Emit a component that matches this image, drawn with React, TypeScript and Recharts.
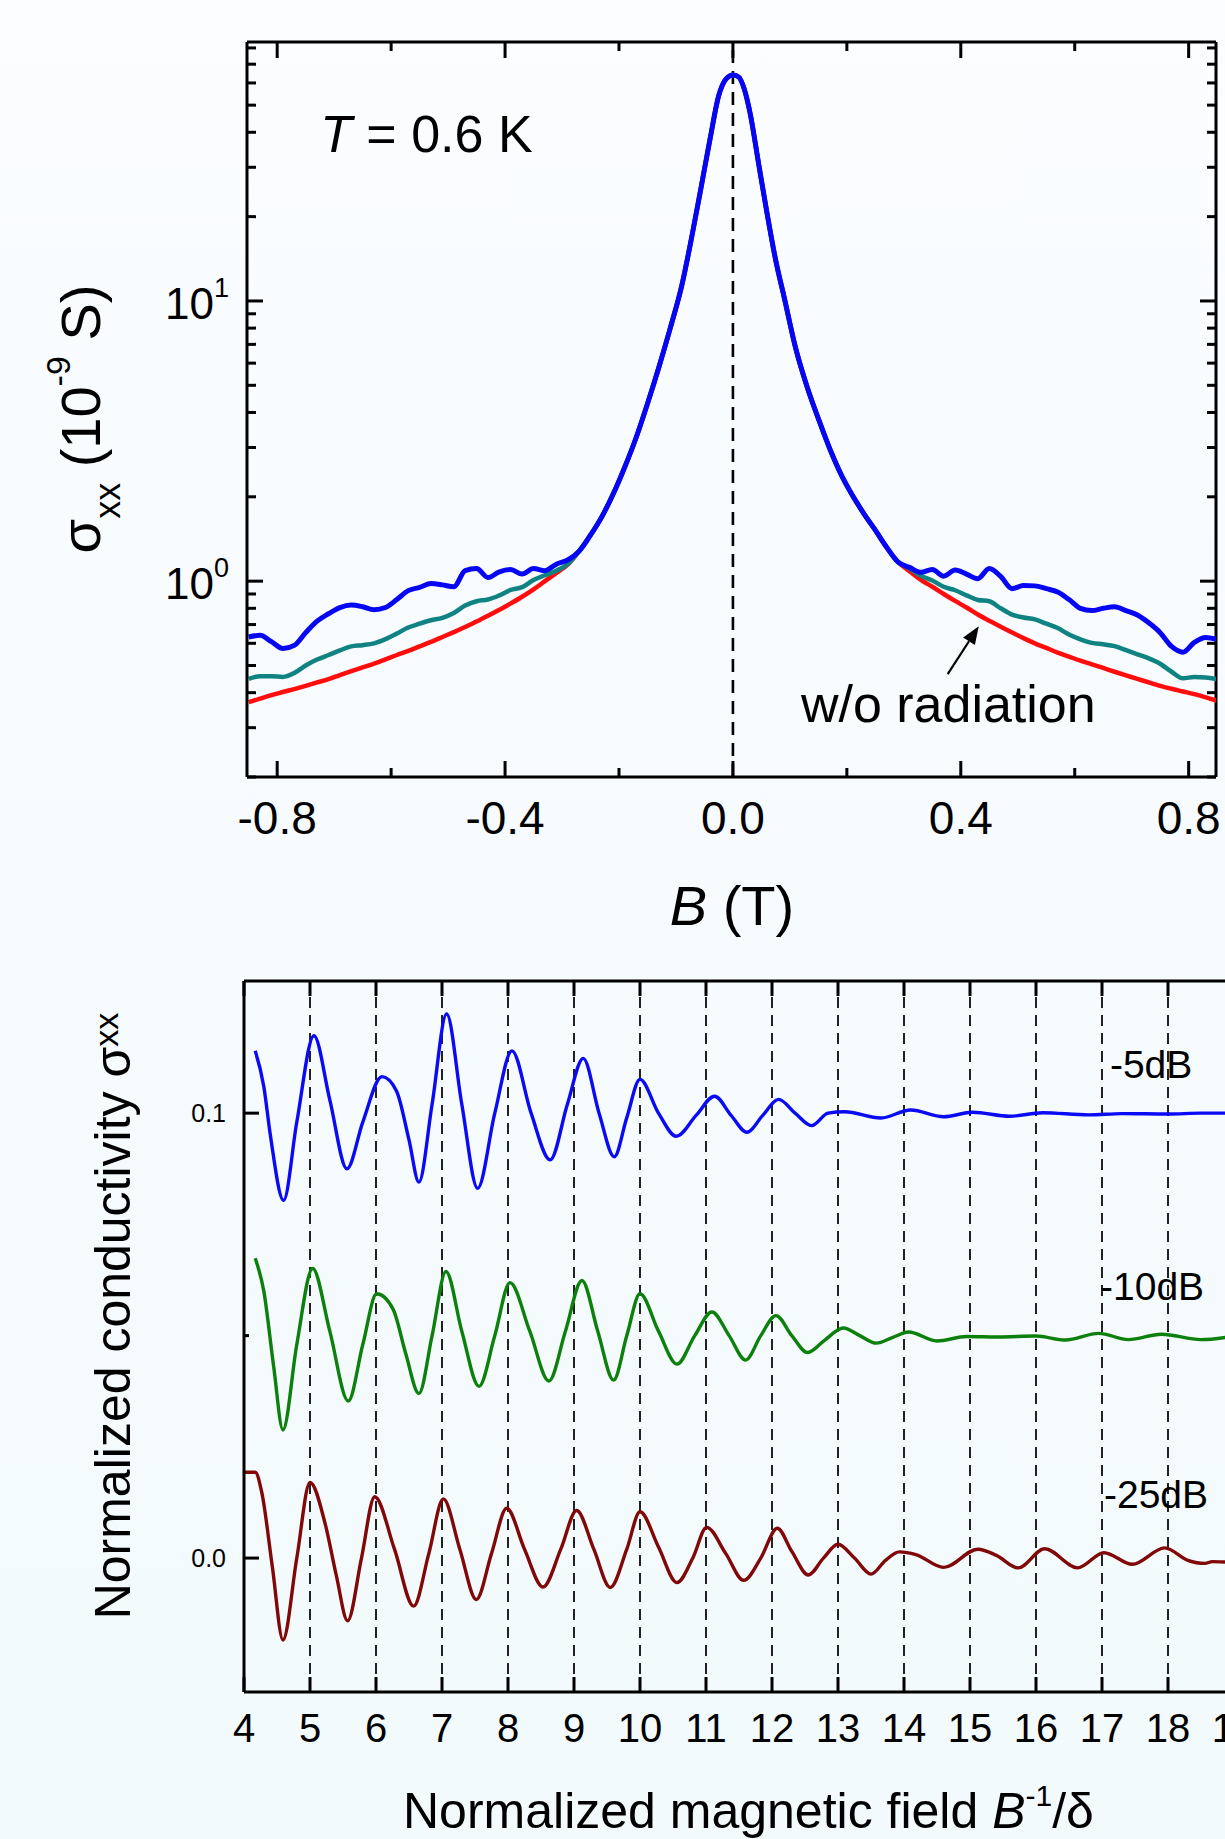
import React from 'react'
import { LineChart, Line, XAxis, YAxis, ReferenceLine, ReferenceDot } from 'recharts'

const FONT = '"Liberation Sans", Arial, Helvetica, sans-serif'

// ---- top panel: sigma_xx (1e-9 S) vs B (T), T = 0.6 K ----
const fieldB = [
  -0.85, -0.83, -0.81, -0.79, -0.77, -0.75, -0.73, -0.71, -0.69, -0.67, -0.65, -0.63, -0.61, -0.59, -0.57,
  -0.55, -0.53, -0.51, -0.49, -0.47, -0.45, -0.43, -0.41, -0.39, -0.37, -0.35, -0.33, -0.31, -0.29,
  -0.27, -0.25, -0.23, -0.21, -0.19, -0.17, -0.15, -0.13, -0.11, -0.09, -0.07, -0.055, -0.04, -0.025, -0.012,
  0, 0.01, 0.02, 0.03, 0.045, 0.06, 0.075, 0.09, 0.11, 0.13, 0.15, 0.17, 0.19, 0.21, 0.23, 0.25, 0.27,
  0.29, 0.31, 0.33, 0.35, 0.37, 0.39, 0.41, 0.43, 0.45, 0.47, 0.49, 0.51, 0.53, 0.55, 0.57, 0.59, 0.61,
  0.63, 0.65, 0.67, 0.69, 0.71, 0.73, 0.75, 0.77, 0.79, 0.81, 0.83, 0.85,
]

// shared peak, all three traces overlap here
const peakSigma = [
  1.28, 1.46, 1.7, 2.05, 2.55, 3.25, 4.3, 5.8, 8.0, 11.3, 17.9, 26, 38, 54, 62,
  64, 63, 57, 47, 31, 20.5, 14, 10.3, 6.8, 4.95, 3.8, 2.97, 2.4, 2.02, 1.74, 1.52, 1.32,
]

// w/o radiation (red)
const darkLeft = [
  0.37, 0.381, 0.392, 0.402, 0.412, 0.423, 0.435, 0.447, 0.462, 0.477, 0.492, 0.508, 0.526, 0.545, 0.564,
  0.585, 0.607, 0.632, 0.658, 0.686, 0.718, 0.752, 0.79, 0.833, 0.88, 0.935, 1.0, 1.07, 1.145,
]
const darkRight = [
  1.17, 1.085, 1.01, 0.955, 0.9, 0.85, 0.805, 0.76, 0.722, 0.688, 0.656, 0.626, 0.6, 0.578, 0.556, 0.538,
  0.52, 0.505, 0.49, 0.475, 0.461, 0.448, 0.435, 0.423, 0.413, 0.404, 0.395, 0.385, 0.374,
]

// weaker radiation (teal)
const lowLeft = [
  0.448, 0.458, 0.458, 0.455, 0.47, 0.5, 0.525, 0.545, 0.566, 0.585, 0.591, 0.6, 0.621, 0.65, 0.683,
  0.705, 0.725, 0.74, 0.77, 0.818, 0.848, 0.86, 0.89, 0.93, 0.952, 1.01, 1.05, 1.09, 1.15,
]
const lowRight = [
  1.17, 1.11, 1.045, 1.005, 0.955, 0.928, 0.89, 0.857, 0.848, 0.8, 0.76, 0.742, 0.73, 0.705, 0.68, 0.645,
  0.62, 0.602, 0.595, 0.586, 0.567, 0.548, 0.53, 0.507, 0.475, 0.45, 0.455, 0.453, 0.447,
]

// stronger radiation (blue)
const highLeft = [
  0.632, 0.641, 0.608, 0.575, 0.59, 0.655, 0.72, 0.765, 0.805, 0.822, 0.81, 0.79, 0.805, 0.86, 0.925,
  0.95, 0.98, 0.97, 0.955, 1.09, 1.11, 1.03, 1.08, 1.1, 1.06, 1.11, 1.09, 1.15, 1.19,
]
const highRight = [
  1.17, 1.12, 1.075, 1.1, 1.042, 1.095, 1.06, 1.02, 1.11, 1.04, 0.94, 0.965, 0.962, 0.94, 0.915, 0.86,
  0.8, 0.785, 0.8, 0.81, 0.785, 0.757, 0.71, 0.655, 0.585, 0.558, 0.605, 0.63, 0.619,
]

const bTicks = [-0.8, -0.6, -0.4, -0.2, 0, 0.2, 0.4, 0.6, 0.8]
const bLabeled = [-0.8, -0.4, 0, 0.4, 0.8]
const sigmaTicks = [0.2, 0.3, 0.4, 0.5, 0.6, 0.7, 0.8, 0.9, 1, 2, 3, 4, 5, 6, 7, 8, 9, 10, 20, 30, 40, 50, 60, 70, 80]
const sigmaDecades = [1, 10]

// ---- bottom panel: normalized sigma_xx vs B^-1/delta ----
const x5dB = [
  4.17, 4.3, 4.4, 4.6, 4.8, 5.06, 5.3, 5.56, 5.8, 6.09, 6.31, 6.5, 6.65, 6.85, 7.07, 7.3, 7.54, 7.8, 8.06,
  8.35, 8.64, 8.9, 9.14, 9.38, 9.61, 9.8, 10.0, 10.28, 10.55, 10.85, 11.13, 11.38, 11.62, 11.86, 12.1,
  12.35, 12.6, 12.85, 13.1, 13.65, 14.1, 14.6, 15.04, 15.6, 16.1, 16.8, 17.3, 18.0, 18.5, 19.0,
]
const s5dB = [
  0.114, 0.106, 0.095, 0.0804, 0.098, 0.1174, 0.103, 0.0875, 0.098, 0.1082, 0.105, 0.094, 0.0845, 0.102,
  0.1223, 0.102, 0.0831, 0.1, 0.114, 0.1, 0.0895, 0.102, 0.1123, 0.1, 0.0902, 0.099, 0.1076, 0.1, 0.0948,
  0.0995, 0.1038, 0.0995, 0.0957, 0.0995, 0.1031, 0.1, 0.0972, 0.1, 0.1003, 0.0989, 0.1007, 0.0992,
  0.1002, 0.0993, 0.1001, 0.0996, 0.0999, 0.0998, 0.1, 0.1,
]

const x10dB = [
  4.17, 4.3, 4.45, 4.59, 4.8, 5.04, 5.3, 5.58, 5.8, 6.01, 6.26, 6.45, 6.65, 6.85, 7.06, 7.3, 7.56, 7.8,
  8.03, 8.33, 8.62, 8.87, 9.12, 9.36, 9.6, 9.8, 10.0, 10.28, 10.56, 10.83, 11.09, 11.35, 11.6, 11.83,
  12.06, 12.3, 12.54, 12.8, 13.08, 13.33, 13.58, 13.83, 14.07, 14.5, 14.95, 15.43, 16.0, 16.45, 16.95,
  17.4, 17.9, 18.5, 19.0,
]
const s10dB = [
  0.0674, 0.06, 0.043, 0.0288, 0.048, 0.0651, 0.051, 0.0353, 0.048, 0.0594, 0.0559, 0.046, 0.037, 0.05,
  0.0644, 0.051, 0.0386, 0.05, 0.0619, 0.051, 0.0398, 0.051, 0.0624, 0.051, 0.04, 0.05, 0.0594, 0.051,
  0.0436, 0.05, 0.0553, 0.05, 0.0445, 0.05, 0.0545, 0.05, 0.0462, 0.049, 0.0517, 0.05, 0.0483, 0.0496,
  0.0508, 0.0488, 0.0498, 0.0497, 0.0499, 0.049, 0.0505, 0.0491, 0.0503, 0.0491, 0.0499,
]

const x25dB = [
  4.0, 4.17, 4.27, 4.43, 4.59, 4.8, 5.0, 5.23, 5.4, 5.57, 5.78, 5.98, 6.28, 6.57, 6.8, 7.02, 7.27, 7.52,
  7.75, 7.98, 8.25, 8.53, 8.8, 9.04, 9.3, 9.55, 9.8, 10.0, 10.28, 10.56, 10.8, 11.01, 11.3, 11.57, 11.83,
  12.08, 12.3, 12.55, 12.78, 13.0, 13.25, 13.5, 13.72, 13.93, 14.18, 14.6, 15.12, 15.4, 15.73, 16.13,
  16.63, 17.03, 17.46, 17.95, 18.3, 18.56, 18.67, 18.9, 19.0,
]
const s25dB = [
  0.0193, 0.0193, 0.0147, -0.002, -0.0184, 0.0, 0.017, 0.0077, -0.004, -0.0141, 0.0, 0.0138, 0.002,
  -0.0108, 0.001, 0.0133, 0.002, -0.0093, 0.001, 0.0112, 0.002, -0.0065, 0.002, 0.0107, 0.002, -0.0066,
  0.002, 0.0104, 0.0025, -0.0055, 0.0, 0.0069, 0.001, -0.005, 0.0, 0.0067, 0.0015, -0.0038, 0.0, 0.0031,
  0.0, -0.0036, -0.0005, 0.0014, 0.0008, -0.0021, 0.002, 0.0006, -0.0022, 0.0021, -0.0022, 0.0012,
  -0.0014, 0.0023, -0.0005, -0.0012, -0.0008, -0.0009, -0.0008,
]

const nTicks = [4, 5, 6, 7, 8, 9, 10, 11, 12, 13, 14, 15, 16, 17, 18, 19]
const nDashed = [5, 6, 7, 8, 9, 10, 11, 12, 13, 14, 15, 16, 17, 18]
const normTicks = [0, 0.05, 0.1]
const normLabeled = [0, 0.1]

const topRows = fieldB.map((b, i) => {
  const nl = darkLeft.length
  const np = peakSigma.length
  const pick = (left: number[], right: number[]) =>
    i < nl ? left[i] : i < nl + np ? peakSigma[i - nl] : right[i - nl - np]
  return { b, dark: pick(darkLeft, darkRight), low: pick(lowLeft, lowRight), high: pick(highLeft, highRight) }
})

const rows = (xs: number[], ys: number[]) => xs.map((x, i) => ({ x, v: ys[i] }))

const TOP_W = 969
const TOP_H = 735
const BOT_H = 711

function BTick({ x, y, payload }: any) {
  const v = payload.value
  const major = bLabeled.includes(v)
  const len = major ? 16 : 9
  return (
    <g>
      <line x1={x} y1={y} x2={x} y2={y - len} stroke="#000" strokeWidth={3} />
      <line x1={x} y1={y - TOP_H} x2={x} y2={y - TOP_H + len} stroke="#000" strokeWidth={3} />
      {major && (
        <text x={x} y={y + 57} textAnchor="middle" fontSize={46} fontFamily={FONT} fill="#000">
          {v.toFixed(1)}
        </text>
      )}
    </g>
  )
}

function SigmaTick({ x, y, payload }: any) {
  const v = payload.value
  const major = sigmaDecades.includes(v)
  const len = major ? 16 : 9
  return (
    <g>
      <line x1={x} y1={y} x2={x + len} y2={y} stroke="#000" strokeWidth={3} />
      <line x1={x + TOP_W} y1={y} x2={x + TOP_W - len} y2={y} stroke="#000" strokeWidth={3} />
      {major && (
        <text x={x - 18} y={y + 18} textAnchor="end" fontSize={44} fontFamily={FONT} fill="#000">
          10
          <tspan fontSize={27} dy={-22}>
            {Math.round(Math.log10(v))}
          </tspan>
        </text>
      )}
    </g>
  )
}

function NTick({ x, y, payload }: any) {
  return (
    <g>
      <line x1={x} y1={y} x2={x} y2={y - 15} stroke="#000" strokeWidth={3} />
      <line x1={x} y1={y - BOT_H} x2={x} y2={y - BOT_H + 15} stroke="#000" strokeWidth={3} />
      <text x={x} y={y + 50} textAnchor="middle" fontSize={40} fontFamily={FONT} fill="#000">
        {payload.value}
      </text>
    </g>
  )
}

function NormTick({ x, y, payload }: any) {
  const v = payload.value
  const major = normLabeled.includes(v)
  return (
    <g>
      <line x1={x} y1={y} x2={x + (major ? 15 : 5)} y2={y} stroke="#000" strokeWidth={3} />
      {major && (
        <text x={x - 18} y={y + 9} textAnchor="end" fontSize={25} fontFamily={FONT} fill="#000">
          {v.toFixed(1)}
        </text>
      )}
    </g>
  )
}

function Arrow({ x1, y1, x2, y2 }: any) {
  const a = Math.atan2(y2 - y1, x2 - x1)
  const hl = 18
  const hw = 7
  const bx = x2 - hl * Math.cos(a)
  const by = y2 - hl * Math.sin(a)
  const px = -Math.sin(a) * hw
  const py = Math.cos(a) * hw
  return (
    <g>
      <line x1={x1} y1={y1} x2={bx} y2={by} stroke="#000" strokeWidth={2.2} />
      <polygon points={`${x2},${y2} ${bx + px},${by + py} ${bx - px},${by - py}`} fill="#000" />
    </g>
  )
}

const textAt = (content: React.ReactNode, size: number) => (p: any) => (
  <text x={p.cx} y={p.cy} fontSize={size} fontFamily={FONT} fill="#000">
    {content}
  </text>
)

function TopPanel() {
  return (
    <LineChart width={1225} height={950} data={topRows} margin={{ top: 42, right: 9, bottom: 133, left: 187 }}>
      <XAxis
        dataKey="b"
        type="number"
        domain={[-0.853, 0.848]}
        allowDataOverflow
        ticks={bTicks}
        interval={0}
        height={40}
        tickSize={0}
        tickMargin={0}
        tickLine={false}
        axisLine={{ stroke: '#000', strokeWidth: 3 }}
        tick={<BTick />}
      />
      <YAxis
        type="number"
        scale="log"
        domain={[0.2, 84]}
        allowDataOverflow
        ticks={sigmaTicks}
        interval={0}
        width={60}
        tickSize={0}
        tickMargin={0}
        tickLine={false}
        axisLine={{ stroke: '#000', strokeWidth: 3 }}
        tick={<SigmaTick />}
      />
      <ReferenceLine y={84} stroke="#000" strokeWidth={3} />
      <ReferenceLine x={0.848} stroke="#000" strokeWidth={3} />
      <ReferenceLine x={0} stroke="#000" strokeWidth={2.6} strokeDasharray="13 8" />
      <Line dataKey="dark" type="monotone" stroke="#ff0d0d" strokeWidth={4.5} dot={false} isAnimationActive={false} />
      <Line dataKey="low" type="monotone" stroke="#0f8282" strokeWidth={4.5} dot={false} isAnimationActive={false} />
      <Line dataKey="high" type="monotone" stroke="#0606f5" strokeWidth={5} dot={false} isAnimationActive={false} />
      <ReferenceLine
        segment={[
          { x: 0.377, y: 0.4656 },
          { x: 0.4316, y: 0.691 },
        ]}
        shape={(p: any) => <Arrow {...p} />}
      />
      <ReferenceDot
        x={-0.7246}
        y={34.1}
        r={0}
        shape={textAt(
          <>
            <tspan fontStyle="italic">T</tspan> = 0.6 K
          </>,
          52,
        )}
      />
      <ReferenceDot x={0.1193} y={0.3136} r={0} shape={textAt('w/o radiation', 52)} />
    </LineChart>
  )
}

function BottomPanel() {
  return (
    <LineChart width={1300} height={899} margin={{ top: 41, right: 66, bottom: 107, left: 184 }}>
      <XAxis
        dataKey="x"
        type="number"
        domain={[4, 19]}
        allowDataOverflow
        ticks={nTicks}
        interval={0}
        height={40}
        tickSize={0}
        tickMargin={0}
        tickLine={false}
        axisLine={{ stroke: '#000', strokeWidth: 3 }}
        tick={<NTick />}
      />
      <YAxis
        type="number"
        domain={[-0.0301, 0.1297]}
        allowDataOverflow
        ticks={normTicks}
        interval={0}
        width={60}
        tickSize={0}
        tickMargin={0}
        tickLine={false}
        axisLine={{ stroke: '#000', strokeWidth: 3 }}
        tick={<NormTick />}
      />
      <ReferenceLine y={0.1297} stroke="#000" strokeWidth={3} />
      {nDashed.map((n) => (
        <ReferenceLine key={n} x={n} stroke="#222" strokeWidth={2} strokeDasharray="11 7" />
      ))}
      <Line data={rows(x5dB, s5dB)} dataKey="v" type="monotone" stroke="#0a0af5" strokeWidth={3.4} dot={false} isAnimationActive={false} />
      <Line data={rows(x10dB, s10dB)} dataKey="v" type="monotone" stroke="#0c800c" strokeWidth={3.4} dot={false} isAnimationActive={false} />
      <Line data={rows(x25dB, s25dB)} dataKey="v" type="monotone" stroke="#800808" strokeWidth={3.4} dot={false} isAnimationActive={false} />
      <ReferenceDot x={17.12} y={0.1079} r={0} shape={textAt('-5dB', 39)} />
      <ReferenceDot x={16.97} y={0.058} r={0} shape={textAt('-10dB', 39)} />
      <ReferenceDot x={17.03} y={0.0112} r={0} shape={textAt('-25dB', 39)} />
    </LineChart>
  )
}

export default function App() {
  return (
    <div
      style={{
        position: 'absolute',
        left: 0,
        top: 0,
        width: 1225,
        height: 1839,
        overflow: 'hidden',
        background: 'linear-gradient(180deg, #fbfdff 0%, #f7fbfe 45%, #f2fafc 100%)',
        fontFamily: FONT,
      }}
    >
      <div style={{ position: 'absolute', left: 0, top: 0 }}>
        <TopPanel />
      </div>
      <div style={{ position: 'absolute', left: 0, top: 940 }}>
        <BottomPanel />
      </div>
      <svg
        width={1225}
        height={1839}
        style={{ position: 'absolute', left: 0, top: 0, pointerEvents: 'none' }}
        fontFamily={FONT}
        fill="#000"
      >
        <text transform="translate(100 419) rotate(-90)" textAnchor="middle" fontSize={56}>
          σ<tspan fontSize={36} dy={20}>xx</tspan>
          <tspan dy={-20}> (10</tspan>
          <tspan fontSize={34} dy={-30}>-9</tspan>
          <tspan dy={30}> S)</tspan>
        </text>
        <text x={732} y={925} textAnchor="middle" fontSize={56}>
          <tspan fontStyle="italic">B</tspan> (T)
        </text>
        <text transform="translate(130 1316) rotate(-90)" textAnchor="middle" fontSize={50}>
          Normalized conductivity σ<tspan fontSize={34} dy={-12}>xx</tspan>
        </text>
        <text x={403} y={1828} fontSize={50}>
          Normalized magnetic field <tspan fontStyle="italic">B</tspan>
          <tspan fontSize={30} dy={-22}>-1</tspan>
          <tspan dy={22}>/δ</tspan>
        </text>
      </svg>
    </div>
  )
}
